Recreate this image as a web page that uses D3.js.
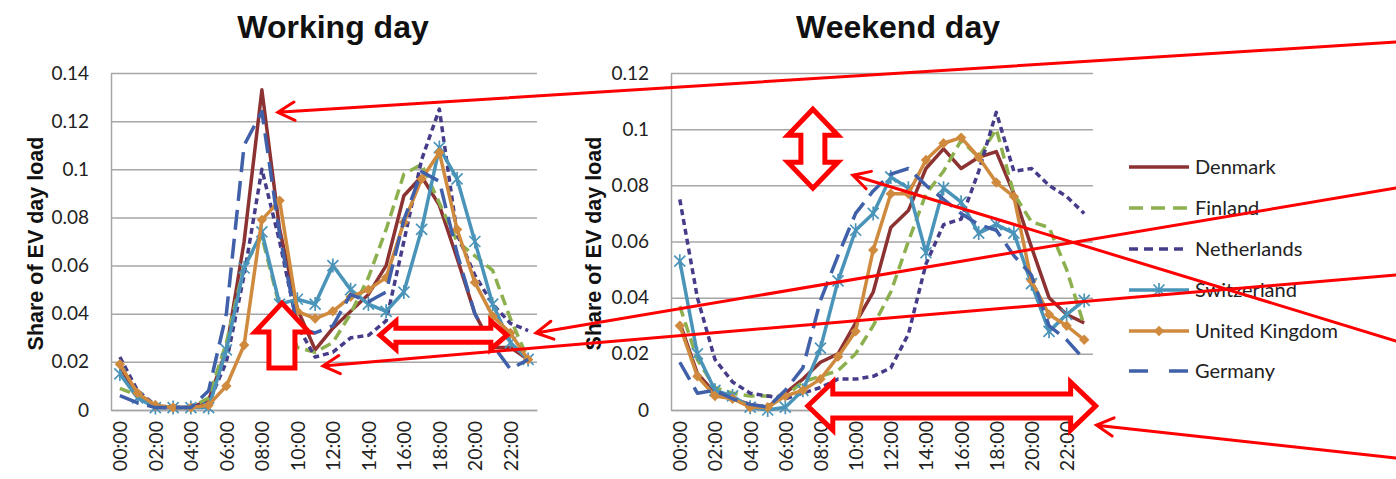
<!DOCTYPE html>
<html>
<head>
<meta charset="utf-8">
<script src="https://cdn.jsdelivr.net/npm/d3@7"></script>
<style>
  body { margin: 0; background: #fff; }
  svg { display: block; }
</style>
</head>
<body>
<div id="chart"></div>
<script>
const WIDTH = 1396;
const HEIGHT = 479;

// ---- data ----
const hours = d3.range(24).map(h => String(h).padStart(2, "0") + ":00");
const hourLabels = hours.filter((d, i) => i % 2 === 0);
const countries = ["Denmark", "Finland", "Netherlands", "Switzerland", "United Kingdom", "Germany"];

// working day
const workDenmark     = [0.018,0.006,0.001,0.001,0.001,0.004,0.025,0.070,0.133,0.075,0.042,0.025,0.034,0.041,0.048,0.060,0.089,0.097,0.085,0.063,0.040,0.026,0.026,0.021];
const workFinland     = [0.009,0.006,0.002,0.001,0.001,0.005,0.028,0.060,0.072,0.043,0.026,0.024,0.028,0.040,0.055,0.075,0.098,0.102,0.086,0.070,0.064,0.058,0.038,0.021];
const workNetherlands = [0.022,0.008,0.002,0.001,0.001,0.003,0.020,0.056,0.100,0.070,0.035,0.022,0.024,0.030,0.031,0.037,0.070,0.104,0.125,0.073,0.056,0.044,0.036,0.033];
const workSwitzerland = [0.015,0.005,0.001,0.001,0.001,0.001,0.025,0.059,0.074,0.044,0.046,0.044,0.060,0.050,0.044,0.041,0.049,0.075,0.109,0.096,0.070,0.044,0.028,0.021];
const workUK          = [0.019,0.007,0.002,0.001,0.001,0.002,0.010,0.027,0.079,0.087,0.041,0.038,0.041,0.047,0.050,0.055,0.078,0.096,0.107,0.075,0.053,0.039,0.032,0.021];
const workGermany     = [0.006,0.003,0.001,0.001,0.001,0.008,0.040,0.110,0.124,0.073,0.034,0.032,0.035,0.048,0.045,0.049,0.079,0.099,0.095,0.065,0.040,0.027,0.017,0.021];

// weekend day
const weekDenmark     = [0.031,0.013,0.006,0.004,0.002,0.001,0.006,0.011,0.017,0.020,0.031,0.042,0.065,0.071,0.086,0.093,0.086,0.090,0.092,0.077,0.058,0.040,0.034,0.031];
const weekFinland     = [0.037,0.018,0.008,0.006,0.005,0.005,0.005,0.010,0.012,0.014,0.020,0.030,0.042,0.060,0.077,0.085,0.096,0.090,0.100,0.077,0.067,0.065,0.050,0.030];
const weekNetherlands = [0.075,0.040,0.018,0.010,0.006,0.005,0.004,0.006,0.008,0.011,0.011,0.012,0.015,0.027,0.052,0.066,0.068,0.085,0.106,0.085,0.086,0.080,0.076,0.070];
const weekSwitzerland = [0.053,0.020,0.007,0.005,0.001,0.000,0.001,0.007,0.022,0.046,0.064,0.070,0.083,0.079,0.056,0.079,0.074,0.063,0.066,0.063,0.045,0.028,0.034,0.039];
const weekUK          = [0.030,0.012,0.005,0.004,0.001,0.001,0.005,0.007,0.011,0.019,0.028,0.057,0.077,0.077,0.089,0.095,0.097,0.090,0.081,0.076,0.046,0.034,0.030,0.025];
const weekGermany     = [0.017,0.006,0.007,0.004,0.002,0.001,0.007,0.015,0.039,0.055,0.070,0.078,0.084,0.086,0.080,0.075,0.070,0.066,0.064,0.055,0.048,0.030,0.025,0.018];

const workSeries = [workDenmark, workFinland, workNetherlands, workSwitzerland, workUK, workGermany];
const weekSeries = [weekDenmark, weekFinland, weekNetherlands, weekSwitzerland, weekUK, weekGermany];

// ---- styles ----
const STYLES = [
  { color: "#8c3232", dash: null,    legendDash: null,    marker: null },
  { color: "#8db04f", dash: "11,6",  legendDash: "14,8",  marker: null },
  { color: "#463d8a", dash: "6,4",   legendDash: "9,6",   marker: null },
  { color: "#4a94b9", dash: null,    legendDash: null,    marker: "star" },
  { color: "#cf8a3e", dash: null,    legendDash: null,    marker: "diamond" },
  { color: "#4060aa", dash: "20,9",  legendDash: "19,21", marker: null }
];
const GRID = "#a6a6a6";
const RED = "#ff0000";
const TICK_FONT = "Lato, 'Open Sans', sans-serif";
const BOLD_FONT = "'Liberation Sans', Arial, sans-serif";

const svg = d3.select("#chart").append("svg")
  .attr("width", WIDTH)
  .attr("height", HEIGHT);

function drawMarker(g, type, cx, cy, color) {
  if (type === "star") {
    const r = 5.5;
    g.append("path")
      .attr("d", `M${cx - r},${cy - r}L${cx + r},${cy + r}M${cx - r},${cy + r}L${cx + r},${cy - r}M${cx},${cy - r - 1.5}L${cx},${cy + r + 1.5}`)
      .attr("stroke", color).attr("stroke-width", 1.7).attr("fill", "none");
  } else if (type === "diamond") {
    const r = 5.2;
    g.append("path")
      .attr("d", `M${cx},${cy - r}L${cx + r},${cy}L${cx},${cy + r}L${cx - r},${cy}Z`)
      .attr("fill", color);
  }
}

function drawChart(cfg) {
  const g = svg.append("g");

  const x = d3.scalePoint().domain(hours).range([cfg.left, cfg.right]).padding(0.5);
  const y = d3.scaleLinear().domain([0, cfg.max]).range([cfg.bottom, cfg.top]);
  const yTicks = d3.range(0, cfg.max + 0.0001, 0.02);

  // y axis + gridlines
  const yAxis = g.append("g")
    .attr("transform", `translate(${cfg.left},0)`)
    .call(d3.axisLeft(y)
      .tickValues(yTicks)
      .tickSize(-(cfg.right - cfg.left))
      .tickSizeOuter(0)
      .tickPadding(22)
      .tickFormat(d => String(+d.toFixed(2))));
  yAxis.selectAll("line").attr("stroke", GRID).attr("stroke-width", 1.5);
  yAxis.select(".domain").attr("stroke", GRID).attr("stroke-width", 1.5);
  yAxis.selectAll("text")
    .attr("font-family", TICK_FONT).attr("font-size", 19).attr("fill", "#222");

  // x axis
  const xAxis = g.append("g")
    .attr("transform", `translate(0,${cfg.bottom})`)
    .call(d3.axisBottom(x).tickValues(hourLabels).tickSize(0).tickSizeOuter(0));
  xAxis.select(".domain").attr("stroke", GRID).attr("stroke-width", 1.5);
  xAxis.selectAll("text")
    .attr("transform", "rotate(-90)")
    .attr("text-anchor", "end")
    .attr("x", -11)
    .attr("y", 0)
    .attr("dy", "0.36em")
    .attr("font-family", TICK_FONT).attr("font-size", 19.5).attr("fill", "#222");

  // title
  g.append("text")
    .attr("x", cfg.titleX).attr("y", 38)
    .attr("text-anchor", "middle")
    .attr("font-family", BOLD_FONT).attr("font-weight", "bold").attr("font-size", 32)
    .attr("fill", "#111")
    .text(cfg.title);

  // y title
  g.append("text")
    .attr("transform", `translate(${cfg.yTitleX},${(cfg.top + cfg.bottom) / 2 + 2}) rotate(-90)`)
    .attr("text-anchor", "middle")
    .attr("dy", "0.35em")
    .attr("font-family", BOLD_FONT).attr("font-weight", "bold").attr("font-size", 21.5)
    .attr("fill", "#111")
    .text("Share of EV day load");

  // series
  const line = d3.line().x((d, i) => x(hours[i])).y(d => y(d));
  cfg.series.forEach((values, k) => {
    const st = STYLES[k];
    g.append("path")
      .attr("d", line(values))
      .attr("fill", "none")
      .attr("stroke", st.color)
      .attr("stroke-width", 3.5)
      .attr("stroke-linejoin", "round")
      .attr("stroke-dasharray", st.dash);
    if (st.marker) {
      const mg = g.append("g");
      values.forEach((v, i) => drawMarker(mg, st.marker, x(hours[i]), y(v), st.color));
    }
  });

  // fractional hour -> pixel, for the annotations
  const xh = h => x(hours[0]) + h * x.step();
  return { x, y, xh };
}

const work = drawChart({
  series: workSeries, title: "Working day", max: 0.14,
  left: 111, right: 537, top: 73, bottom: 410, titleX: 333, yTitleX: 35
});
const week = drawChart({
  series: weekSeries, title: "Weekend day", max: 0.12,
  left: 671, right: 1093, top: 73, bottom: 410, titleX: 898, yTitleX: 593
});

// ---- legend ----
const legendRows = [167, 208, 249, 290, 331, 371];
const legend = svg.append("g");
countries.forEach((name, k) => {
  const st = STYLES[k];
  const ly = legendRows[k];
  legend.append("line")
    .attr("x1", 1129).attr("x2", 1189).attr("y1", ly).attr("y2", ly)
    .attr("stroke", st.color).attr("stroke-width", 3.5)
    .attr("stroke-dasharray", st.legendDash);
  if (st.marker) drawMarker(legend, st.marker, 1159, ly, st.color);
  legend.append("text")
    .attr("x", 1195).attr("y", ly)
    .attr("dy", "0.35em")
    .attr("font-family", TICK_FONT).attr("font-size", 20).attr("fill", "#222")
    .text(name);
});

// ---- red annotations ----
const ann = svg.append("g");

// thin pointer lines with open arrow heads
const pointers = [
  { from: [1396, 42],  chart: work, h: 8.9,   v: 0.1237 },
  { from: [1396, 188], chart: work, h: 23.44, v: 0.0320 },
  { from: [1396, 275], chart: work, h: 11.44, v: 0.0183 },
  { from: [1396, 341], chart: week, h: 9.84,  v: 0.0836 },
  { from: [1396, 458], chart: week, h: 23.7,  v: -0.0054 }
];
pointers.forEach(p => {
  const tx = p.chart.xh(p.h), ty = p.chart.y(p.v);
  const [sx, sy] = p.from;
  const ang = Math.atan2(sy - ty, sx - tx);
  const L = 19, spread = 0.5;
  const a1 = [tx + L * Math.cos(ang - spread), ty + L * Math.sin(ang - spread)];
  const a2 = [tx + L * Math.cos(ang + spread), ty + L * Math.sin(ang + spread)];
  ann.append("path")
    .attr("d", `M${sx},${sy}L${tx},${ty}M${a1}L${tx},${ty}L${a2}`)
    .attr("fill", "none").attr("stroke", RED).attr("stroke-width", 3)
    .attr("stroke-linecap", "round").attr("stroke-linejoin", "miter");
});

// hollow block arrows
function hArrow(x1, x2, cy, hl, hh, sh) {
  return `M${x1},${cy}L${x1 + hl},${cy - hh}L${x1 + hl},${cy - sh}L${x2 - hl},${cy - sh}L${x2 - hl},${cy - hh}` +
         `L${x2},${cy}L${x2 - hl},${cy + hh}L${x2 - hl},${cy + sh}L${x1 + hl},${cy + sh}L${x1 + hl},${cy + hh}Z`;
}
function vArrow(cx, y1, y2, hl, hw, sw) {
  return `M${cx},${y1}L${cx + hw},${y1 + hl}L${cx + sw},${y1 + hl}L${cx + sw},${y2 - hl}L${cx + hw},${y2 - hl}` +
         `L${cx},${y2}L${cx - hw},${y2 - hl}L${cx - sw},${y2 - hl}L${cx - sw},${y1 + hl}L${cx - hw},${y1 + hl}Z`;
}
function upArrow(cx, y1, y2, hl, hw, sw) {
  return `M${cx},${y1}L${cx + hw},${y1 + hl}L${cx + sw},${y1 + hl}L${cx + sw},${y2}L${cx - sw},${y2}` +
         `L${cx - sw},${y1 + hl}L${cx - hw},${y1 + hl}Z`;
}

const blocks = [
  upArrow(work.xh(9.13), work.y(0.0444), work.y(0.0174), 29, 27, 13),
  hArrow(work.xh(14.65), work.xh(21.8), work.y(0.0311), 16, 14, 7),
  vArrow(week.xh(7.57), week.y(0.1071), week.y(0.0790), 26, 25, 12),
  hArrow(week.xh(7.28), week.xh(23.65), week.y(0.0014), 25, 24, 12)
];
blocks.forEach(d => {
  ann.append("path")
    .attr("d", d)
    .attr("fill", "#fff")
    .attr("stroke", RED).attr("stroke-width", 5)
    .attr("stroke-linejoin", "miter");
});
</script>
</body>
</html>
